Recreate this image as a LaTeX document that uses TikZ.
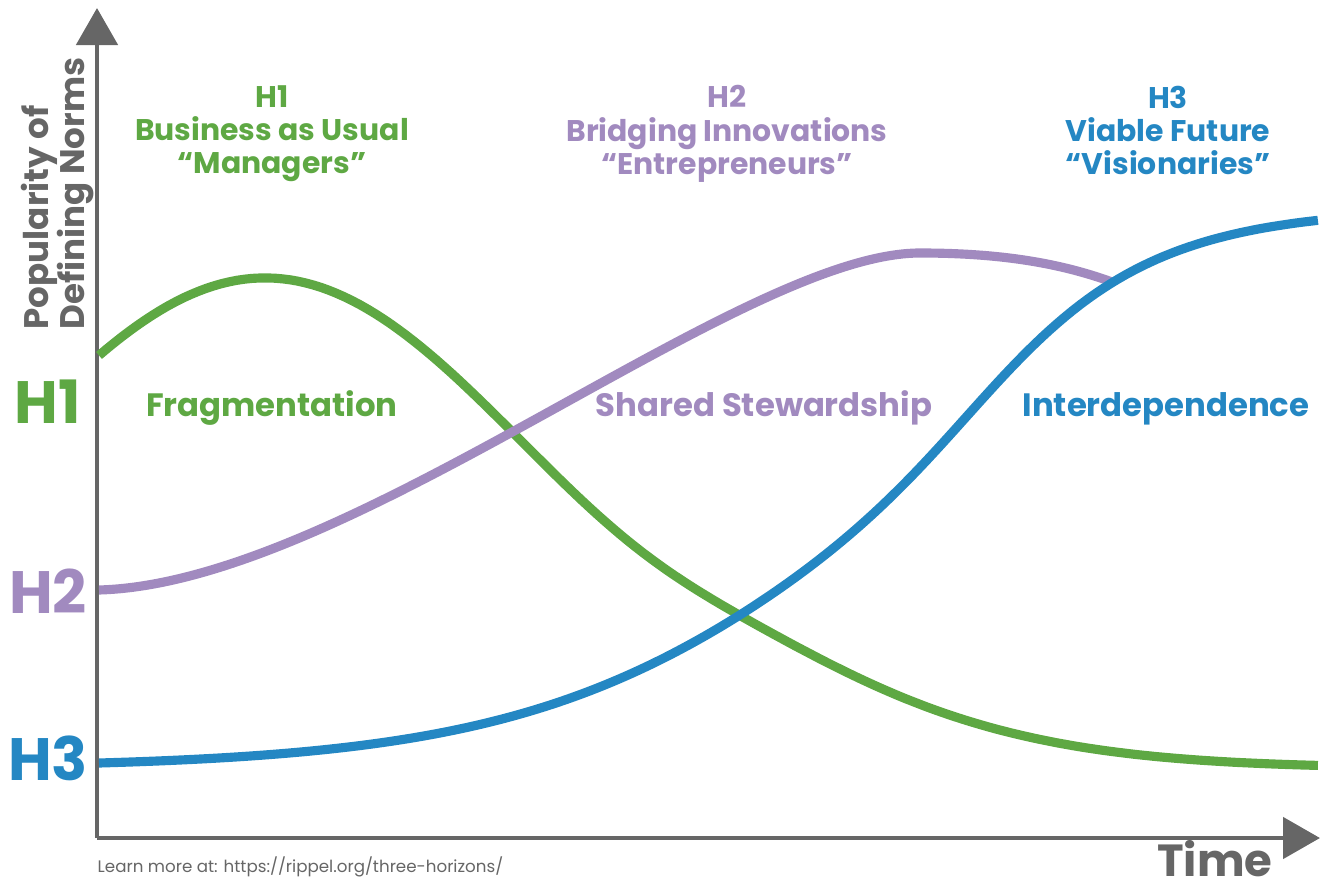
\documentclass[tikz,border=0pt]{standalone}
\usepackage{fontspec}
\setmainfont{Poppins}
\usepackage{tikz}
\usetikzlibrary{arrows.meta}
\definecolor{hgreen}{HTML}{5EA843}
\definecolor{hpurple}{HTML}{A18ABF}
\definecolor{hblue}{HTML}{2487C3}
\definecolor{axisgray}{HTML}{666666}

\begin{document}
\begin{tikzpicture}[
    axis/.style={line width=1.4pt, axisgray, -{Triangle[length=3.7mm,width=4.1mm]}},
    curve/.style={line width=2.6pt, line cap=butt},
    head/.style={font=\bfseries\fontsize{8.5}{9.4}\selectfont, align=center, anchor=north, inner sep=0pt},
    zone/.style={font=\bfseries\fontsize{9.2}{10}\selectfont, anchor=base},
    level/.style={font=\bfseries\fontsize{17}{17}\selectfont, anchor=base},
    declare function={
        gw(\x)=4.0+0.3*(1+tanh((\x-7.0)/1.2));
        gu(\x)=(\x-2.65)/gw(\x);
        greencurve(\x)=1.2+4.9*exp(-gu(\x)*gu(\x));
        bw(\x)=1.4-0.3*tanh((\x-9.0)/1.5);
        bluecurve(\x)=1.2+5.6/(1+exp(-(\x-9.0)/bw(\x)));
    }
    ]

        \useasboundingbox (0,0) rectangle (13.27,8.88);

        \coordinate (origin) at (0.97,0.50);
        \coordinate (ytip) at (0.97,8.80);
        \coordinate (xtip) at (13.20,0.50);

        \coordinate (p0) at (0.99,2.98);
        \coordinate (p1) at (9.20,6.35);
        \coordinate (p2) at (11.12,6.06);

        % axes
        \draw[axis] (origin) -- (xtip);
        \draw[axis] (origin) -- (ytip);

        % curves
        \draw[curve,hgreen] plot[domain=0.99:13.18, samples=160] (\x,{greencurve(\x)});
        \draw[curve,hpurple] (p0) .. controls (3.50,3.05) and (7.40,6.35) .. (p1)
            .. controls (10.00,6.35) and (10.60,6.25) .. (p2);
        \draw[curve,hblue] plot[domain=0.99:13.18, samples=160] (\x,{bluecurve(\x)});

        \node[head,hgreen] (h1head) at (2.72,8.03) {H1\\Business as Usual\\``Managers''};
        \node[head,hpurple] (h2head) at (7.27,8.03) {H2\\Bridging Innovations\\``Entrepreneurs''};
        \node[head,hblue] (h3head) at (11.68,8.03) {H3\\Viable Future\\``Visionaries''};

        \node[zone,hgreen] (frag) at (2.72,4.72) {Fragmentation};
        \node[zone,hpurple] (shared) at (7.64,4.72) {Shared Stewardship};
        \node[zone,hblue] (inter) at (11.66,4.72) {Interdependence};

        \node[level,hgreen] (h1) at (0.48,4.65) {H1};
        \node[level,hpurple] (h2) at (0.48,2.75) {H2};
        \node[level,hblue] (h3) at (0.48,1.08) {H3};

        \node[rotate=90, anchor=north west, inner sep=0pt, align=left, axisgray,
            font=\bfseries\fontsize{9.7}{10.5}\selectfont] (ylabel) at (0.20,5.58) {Popularity of\\Defining Norms};
        \node[anchor=base, inner sep=0pt, axisgray, font=\bfseries\fontsize{12.8}{13}\selectfont] (xlabel) at (12.15,0.12) {Time};
        \node[anchor=base west, inner sep=0pt, axisgray, font=\fontsize{4.75}{6}\selectfont] (source) at (0.97,0.16)
            {Learn more at: https://rippel.org/three-horizons/};
\end{tikzpicture}
\end{document}
